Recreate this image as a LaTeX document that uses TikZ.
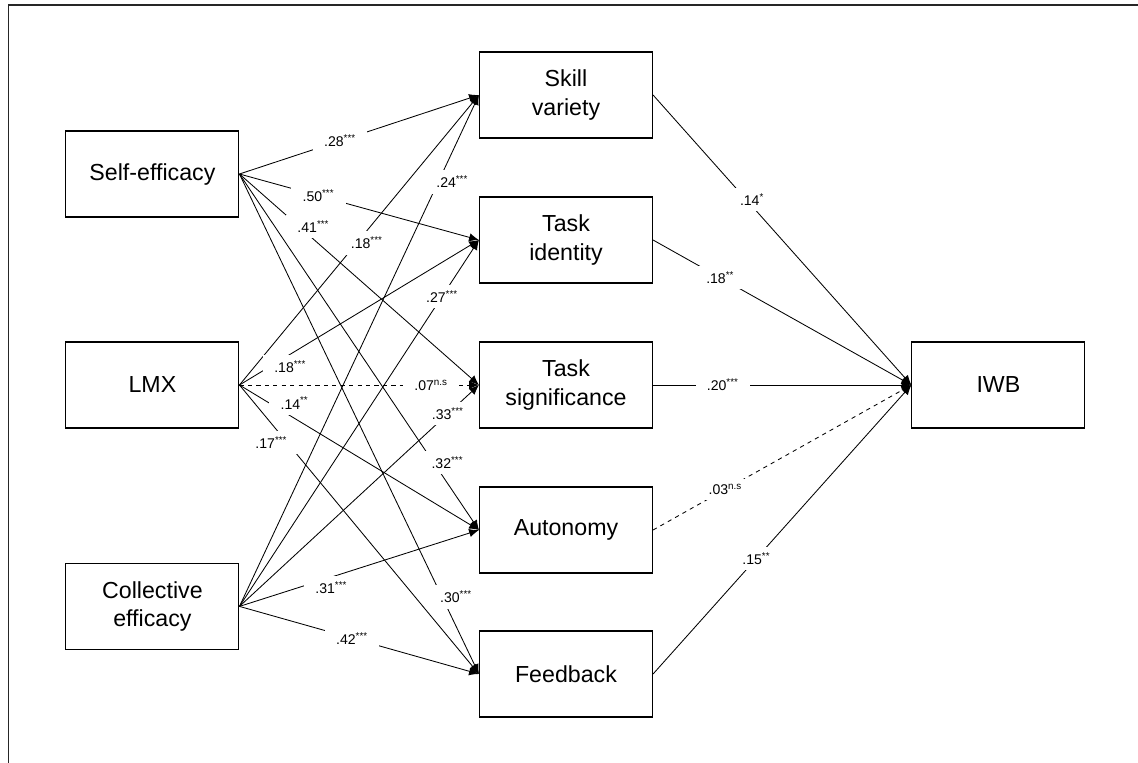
\documentclass[tikz,border=0pt]{standalone}
\usepackage{fontspec}
\setmainfont{Liberation Sans}
\usetikzlibrary{arrows.meta}
\newcommand{\sigmark}[1]{\textsuperscript{#1}}
\tikzset{
  box/.style={draw,line width=0.8pt,minimum width=4.325cm,minimum height=2.15cm,align=center,font=\fontsize{16.5}{20}\selectfont},
  coef/.style={fill=white,inner xsep=8pt,inner ysep=4pt,font=\fontsize{10}{11}\selectfont},
  >={Latex[length=7pt,width=6pt]}
}
\begin{document}
\begin{tikzpicture}[line width=0.6pt]
\useasboundingbox (0,0) rectangle (28.45,-19.075);
\draw[line width=1.4pt,black!85] (0.2125,-19.075) |- (28.45,-0.125);
\node[box] (se) at (3.81,-4.35) {Self-efficacy};
\node[box] (lmx) at (3.81,-9.625) {LMX};
\node[box] (ce) at (3.81,-15.16) {Collective\\efficacy};
\node[box] (sv) at (14.15,-2.375) {Skill\\variety};
\node[box] (ti) at (14.15,-6.0) {Task\\identity};
\node[box] (ts) at (14.15,-9.625) {Task\\significance};
\node[box] (au) at (14.15,-13.25) {Autonomy};
\node[box] (fb) at (14.15,-16.85) {Feedback};
\node[box] (iwb) at (24.96,-9.625) {IWB};
% self-efficacy
\draw[->] (se.east) -- node[coef,pos=0.42] {.28\sigmark{***}} (sv.west);
\draw[->] (se.east) -- node[coef,pos=0.33] {.50\sigmark{***}} (ti.west);
\draw[->] (se.east) -- node[coef,pos=0.25,xshift=0.35cm] {.41\sigmark{***}} (ts.west);
\draw[->] (se.east) -- node[coef,pos=0.81,xshift=0.35cm] {.32\sigmark{***}} (au.west);
\draw[->] (se.east) -- node[coef,pos=0.846,xshift=0.35cm] {.30\sigmark{***}} (fb.west);
% LMX
\draw[->] (lmx.east) -- node[coef,pos=0.49,xshift=0.25cm] {.18\sigmark{***}} (sv.west);
\draw[->] (lmx.east) -- node[coef,pos=0.17,xshift=0.25cm,yshift=-0.15cm] {.18\sigmark{***}} (ti.west);
\draw[->,dashed] (lmx.east) -- node[coef,pos=0.8] {.07\sigmark{n.s}} (ts.west);
\draw[->] (lmx.east) -- node[coef,pos=0.18,xshift=0.3cm,yshift=0.2cm] {.14\sigmark{**}} (au.west);
\draw[->] (lmx.east) -- node[coef,pos=0.2,xshift=-0.4cm] {.17\sigmark{***}} (fb.west);
% collective efficacy
\draw[->] (ce.east) -- node[coef,pos=0.83,xshift=0.35cm] {.24\sigmark{***}} (sv.west);
\draw[->] (ce.east) -- node[coef,pos=0.846] {.27\sigmark{***}} (ti.west);
\draw[->] (ce.east) -- node[coef,pos=0.87] {.33\sigmark{***}} (ts.west);
\draw[->] (ce.east) -- node[coef,pos=0.35,xshift=0.2cm,yshift=-0.2cm] {.31\sigmark{***}} (au.west);
\draw[->] (ce.east) -- node[coef,pos=0.47] {.42\sigmark{***}} (fb.west);
% job characteristics to IWB
\draw[->] (sv.east) -- node[coef,pos=0.36,xshift=0.15cm] {.14\sigmark{*}} (iwb.west);
\draw[->] (ti.east) -- node[coef,pos=0.26] {.18\sigmark{**}} (iwb.west);
\draw[->] (ts.east) -- node[coef,pos=0.27] {.20\sigmark{***}} (iwb.west);
\draw[->,dashed] (au.east) -- node[coef,pos=0.28] {.03\sigmark{n.s}} (iwb.west);
\draw[->] (fb.east) -- node[coef,pos=0.4] {.15\sigmark{**}} (iwb.west);
\end{tikzpicture}
\end{document}
